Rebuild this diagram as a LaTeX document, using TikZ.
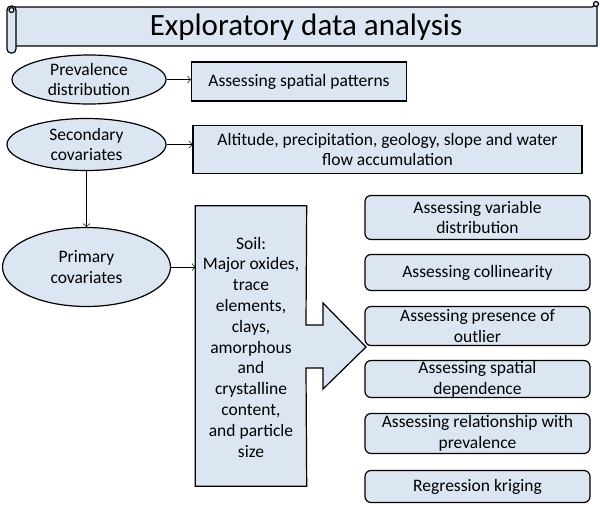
\documentclass[tikz,border=0pt]{standalone}
\usepackage{fontspec}
\setmainfont{Carlito}
\usepackage{tikz}
\usetikzlibrary{shapes,arrows,arrows.meta,positioning}
\definecolor{boxblue}{HTML}{DCE6F2}
\tikzset{
  basenode/.style = {align=center, inner sep=0pt, text centered,
    font=\fontsize{17.5}{20.8}\selectfont},
  ell_n/.style = {basenode, ellipse, draw=black, line width=1.2pt, fill=boxblue},% ellipse
  box_n/.style = {basenode, rectangle, draw=black, line width=1.2pt, fill=boxblue},% square box
  rnd_n/.style = {basenode, rectangle, rounded corners=6pt, draw=black,
    line width=1.2pt, fill=boxblue, minimum width=225pt},% rounded box
  conn/.style = {-{Straight Barb[length=3pt,width=7pt]}, line width=0.5pt}% connector
}
\begin{document}
\begin{tikzpicture}[x=1pt,y=-1pt]
        \useasboundingbox (0,0) rectangle (600,504);
        % title scroll
        \draw[line width=1.2pt, fill=boxblue] (14,7) -- (592,7) -- (597,4) -- (597,46) -- (14,46) -- cycle;
        \draw[line width=1.2pt, fill=boxblue] (596,4) circle (2.5pt);
        \draw[line width=1.2pt, fill=boxblue, rounded corners=4pt] (7,6) rectangle (16,53);
        \draw[line width=1.2pt, fill=boxblue] (11.5,10) circle (2.5pt);
        \node[basenode, font=\fontsize{31}{34}\selectfont](T) at (306,27.5){Exploratory data analysis};

        \node [ell_n, minimum width=154pt, minimum height=49pt](P) at (89,79.5){Prevalence\\distribution};
        \node [box_n, minimum width=215pt, minimum height=39pt](PS) at (299,81.5){Assessing spatial patterns};
        \node [ell_n, minimum width=159pt, minimum height=52pt](S) at (86.5,144.5){Secondary\\covariates};
        \node [box_n, minimum width=389pt, minimum height=48pt](SC) at (387.5,149.5){Altitude, precipitation, geology, slope and water\\flow accumulation};
        \node [ell_n, minimum width=168pt, minimum height=79pt](R) at (86.5,267){Primary\\covariates};

        % soil block arrow
        \node [basenode, minimum width=111pt, minimum height=280pt](soil) at (251,346){};
        \draw[line width=1.2pt, fill=boxblue] (soil.north west) -- (soil.north east) -- (306,325) -- (323,325)
          -- (323,303) -- (366,347) -- (323,389) -- (323,368) -- (306,368)
          -- (soil.south east) -- (soil.south west) -- cycle;
        \node [basenode](soiltxt) at (251,347) {Soil:\\Major oxides,\\trace\\elements,\\clays,\\amorphous\\and\\crystalline\\content,\\and particle\\size};

        \node [rnd_n, minimum height=44pt](A1) at (477.5,217.5){Assessing variable\\distribution};
        \node [rnd_n, minimum height=36pt](A2) at (477.5,272.5){Assessing collinearity};
        \node [rnd_n, minimum height=39pt](A3) at (477.5,326){Assessing presence of\\outlier};
        \node [rnd_n, minimum height=37pt](A4) at (477.5,379){Assessing spatial\\dependence};
        \node [rnd_n, minimum height=40pt](A5) at (477.5,433.5){Assessing relationship with\\prevalence};
        \node [rnd_n, minimum height=32pt](A6) at (477.5,486.5){Regression kriging};

        \draw[conn] (P.east) -- (P.east -| PS.west);
        \draw[conn] (S.east) -- (S.east -| SC.west);
        \draw[conn] (S) -- (R);
        \draw[conn] (R.east) -- (R.east -| soil.west);

        \end{tikzpicture}
\end{document}
